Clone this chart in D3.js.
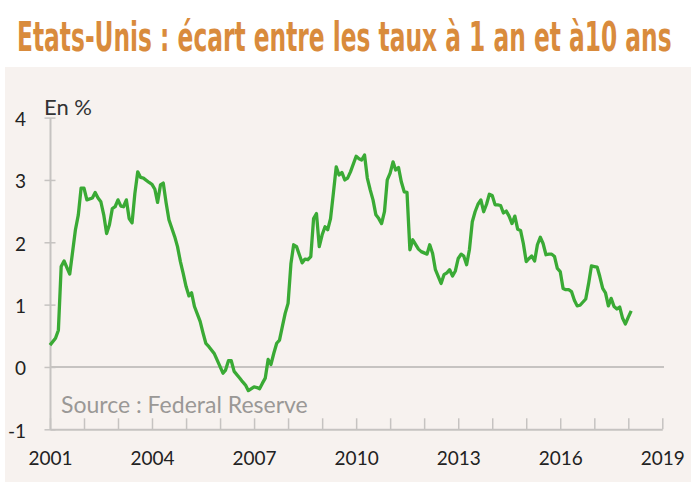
<!DOCTYPE html>
<html>
<head>
<meta charset="utf-8">
<script src="https://d3js.org/d3.v7.min.js"></script>
<style>
  html, body { margin: 0; padding: 0; background: #fff; }
  svg { display: block; }
</style>
</head>
<body>
<svg id="chart" width="695" height="483"></svg>
<script>
// Spread between 10-year and 1-year US rates, in %
const months = [
  "2001-01","2001-03","2001-04","2001-05","2001-06","2001-08","2001-10","2001-11","2001-12",
  "2002-01","2002-02","2002-04","2002-05","2002-06","2002-07","2002-08","2002-09","2002-10","2002-11","2002-12",
  "2003-01","2003-02","2003-03","2003-04","2003-05","2003-06","2003-07","2003-08","2003-09","2003-10","2003-12",
  "2004-01","2004-02","2004-03","2004-04","2004-05","2004-06","2004-07","2004-09","2004-10","2004-11","2004-12",
  "2005-01","2005-02","2005-03","2005-04","2005-06","2005-07","2005-08","2005-09","2005-11","2005-12",
  "2006-02","2006-03","2006-04","2006-05","2006-06","2006-08","2006-09","2006-10","2006-11",
  "2007-01","2007-02","2007-03","2007-04","2007-05","2007-06","2007-07","2007-08","2007-09","2007-10","2007-11","2007-12",
  "2008-01","2008-02","2008-03","2008-04","2008-05","2008-06","2008-07","2008-08","2008-09","2008-10","2008-11","2008-12",
  "2009-01","2009-02","2009-03","2009-04","2009-05","2009-06","2009-07","2009-08","2009-09","2009-10","2009-11",
  "2010-01","2010-02","2010-03","2010-04","2010-05","2010-06","2010-07","2010-08","2010-09","2010-10","2010-11","2010-12",
  "2011-01","2011-02","2011-03","2011-04","2011-05","2011-06","2011-07","2011-08","2011-09","2011-11","2011-12",
  "2012-02","2012-03","2012-04","2012-05","2012-07","2012-08","2012-09","2012-10","2012-11","2012-12",
  "2013-01","2013-02","2013-03","2013-04","2013-05","2013-06","2013-07","2013-08","2013-09","2013-10","2013-11","2013-12",
  "2014-01","2014-02","2014-03","2014-04","2014-05","2014-06","2014-07","2014-08","2014-09","2014-10","2014-11","2014-12",
  "2015-01","2015-02","2015-03","2015-04","2015-05","2015-06","2015-07","2015-08","2015-09","2015-10","2015-11","2015-12",
  "2016-01","2016-02","2016-03","2016-04","2016-05","2016-06","2016-07","2016-08","2016-10","2016-11","2016-12",
  "2017-01","2017-02","2017-03","2017-04","2017-05","2017-06","2017-07","2017-08","2017-09","2017-10","2017-11","2017-12",
  "2018-01","2018-02"
];

const spread = [
  0.35, 0.46, 0.59, 1.61, 1.70, 1.49, 2.20, 2.44, 2.87,
  2.87, 2.68, 2.71, 2.80, 2.71, 2.65, 2.44, 2.14, 2.28, 2.54, 2.57,
  2.68, 2.58, 2.57, 2.68, 2.38, 2.31, 2.78, 3.13, 3.04, 3.03, 2.96,
  2.93, 2.85, 2.64, 2.92, 2.95, 2.63, 2.36, 2.09, 1.93, 1.69, 1.50,
  1.29, 1.14, 1.19, 0.97, 0.73, 0.55, 0.38, 0.33, 0.21, 0.11,
  -0.10, -0.05, 0.10, 0.10, -0.07, -0.18, -0.24, -0.29, -0.38,
  -0.32, -0.33, -0.35, -0.26, -0.18, 0.12, 0.04, 0.22, 0.38, 0.43, 0.65, 0.86,
  1.02, 1.66, 1.96, 1.93, 1.80, 1.67, 1.73, 1.72, 1.77, 2.38, 2.46, 1.93,
  2.12, 2.25, 2.20, 2.38, 2.78, 3.21, 3.08, 3.12, 3.00, 3.03, 3.13,
  3.38, 3.34, 3.32, 3.40, 3.03, 2.84, 2.68, 2.44, 2.38, 2.30, 2.49, 3.00,
  3.11, 3.29, 3.16, 3.20, 2.97, 2.81, 2.80, 1.88, 2.04, 1.89, 1.85,
  1.81, 1.96, 1.82, 1.56, 1.34, 1.48, 1.51, 1.56, 1.46, 1.54,
  1.74, 1.81, 1.78, 1.64, 1.88, 2.33, 2.49, 2.61, 2.68, 2.49, 2.61, 2.77,
  2.75, 2.60, 2.60, 2.59, 2.47, 2.50, 2.42, 2.30, 2.42, 2.21, 2.19, 1.98,
  1.69, 1.74, 1.78, 1.70, 1.96, 2.08, 1.98, 1.80, 1.81, 1.81, 1.77, 1.58,
  1.53, 1.26, 1.24, 1.24, 1.21, 1.07, 0.98, 0.99, 1.09, 1.34, 1.62,
  1.61, 1.60, 1.45, 1.26, 1.19, 0.98, 1.10, 0.97, 0.93, 0.96, 0.78, 0.69,
  0.80, 0.90
];

const yTicks = [-1, 0, 1, 2, 3, 4];
const yearLabels = [2001, 2004, 2007, 2010, 2013, 2016, 2019];

const title = "Etats-Unis : écart entre les taux à 1 an et à10 ans";
const unitLabel = "En %";
const sourceLabel = "Source : Federal Reserve";

const parseMonth = d3.timeParse("%Y-%m");
const data = months.map((m, i) => ({ date: parseMonth(m), value: spread[i] }));

const svg = d3.select("#chart");
const axisGrey = "#c6c3c1";

// panel background
svg.append("rect")
  .attr("x", 5).attr("y", 67)
  .attr("width", 686).attr("height", 415)
  .attr("fill", "#f7f2ef");

// title: narrow font, squeezed horizontally to fit the width of the reference
const titleText = svg.append("text")
  .attr("font-family", "'Liberation Sans Narrow', 'DejaVu Sans Condensed', sans-serif")
  .attr("font-weight", "bold")
  .attr("font-size", 40)
  .attr("fill", "#d98b3c")
  .text(title);
const natural = titleText.node().getComputedTextLength();
titleText.attr("transform", `translate(17,51) scale(${655 / natural},1.03)`);

const x = d3.scaleTime()
  .domain([new Date(2001, 0, 1), new Date(2019, 0, 1)])
  .range([50, 662.3]);

const y = d3.scaleLinear()
  .domain([-1, 4])
  .range([429.3, 117.6]);

// zero line
svg.append("line")
  .attr("x1", 50).attr("x2", 664)
  .attr("y1", y(0)).attr("y2", y(0))
  .attr("stroke", axisGrey).attr("stroke-width", 2);

// y axis (plain hyphen for the minus sign, as in the source)
const yAxis = svg.append("g")
  .attr("transform", "translate(50,0)")
  .call(d3.axisLeft(y)
    .tickValues(yTicks)
    .tickFormat(d => String(d))
    .tickSize(6).tickSizeOuter(0).tickPadding(18));
yAxis.select(".domain").attr("stroke", axisGrey).attr("stroke-width", 2);
yAxis.selectAll(".tick line").attr("x1", -5.5).attr("x2", 5.5)
  .attr("stroke", axisGrey).attr("stroke-width", 1.5);
yAxis.selectAll(".tick text")
  .attr("font-family", "Lato, sans-serif")
  .attr("font-size", 19)
  .attr("fill", "#222")
  .attr("dy", "0.42em");

// x axis
const xAxis = svg.append("g")
  .attr("transform", `translate(0,${y(-1)})`)
  .call(d3.axisBottom(x)
    .ticks(d3.timeYear.every(1))
    .tickSizeInner(-11)
    .tickSizeOuter(0)
    .tickPadding(22)
    .tickFormat(d => yearLabels.includes(d.getFullYear()) ? d.getFullYear() : ""));
xAxis.select(".domain").attr("stroke", axisGrey).attr("stroke-width", 2);
xAxis.selectAll(".tick line").attr("stroke", axisGrey).attr("stroke-width", 1.5);
xAxis.selectAll(".tick text")
  .attr("font-family", "Lato, sans-serif")
  .attr("font-size", 19)
  .attr("fill", "#222");

svg.append("text")
  .attr("x", 44).attr("y", 115)
  .attr("font-family", "Lato, sans-serif")
  .attr("font-size", 22)
  .attr("fill", "#333")
  .text(unitLabel);

svg.append("text")
  .attr("x", 61).attr("y", 413)
  .attr("font-family", "Lato, sans-serif")
  .attr("font-size", 23)
  .attr("fill", "#9a9896")
  .text(sourceLabel);

const line = d3.line()
  .x(d => x(d.date))
  .y(d => y(d.value));

svg.append("path")
  .datum(data)
  .attr("fill", "none")
  .attr("stroke", "#3aaa35")
  .attr("stroke-width", 3.3)
  .attr("stroke-linejoin", "round")
  .attr("d", line);
</script>
</body>
</html>
